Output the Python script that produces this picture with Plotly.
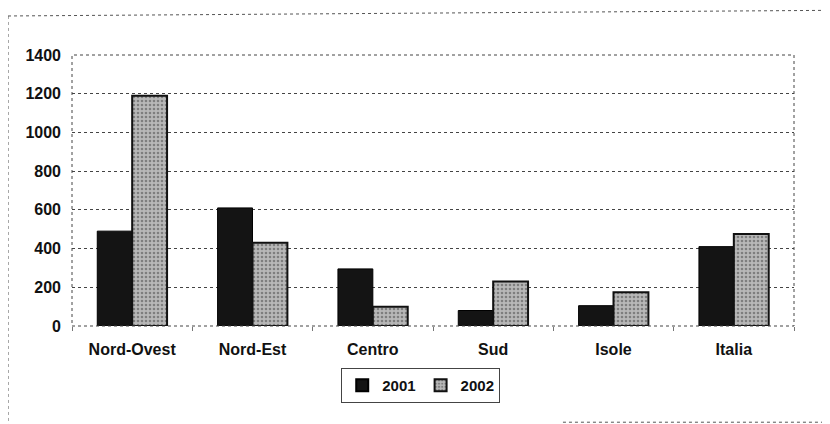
import plotly.graph_objects as go

categories = ["Nord-Ovest", "Nord-Est", "Centro", "Sud", "Isole", "Italia"]
values_2001 = [490, 610, 295, 80, 105, 410]
values_2002 = [1190, 430, 100, 230, 175, 475]
y_ticks = [0, 200, 400, 600, 800, 1000, 1200, 1400]

FONT = "Liberation Sans"

fig = go.Figure()
fig.add_trace(go.Bar(
    name="<b>2001</b>", x=categories, y=values_2001,
    marker=dict(color="#141414", line=dict(color="#000000", width=1)),
))
fig.add_trace(go.Bar(
    name="<b>2002</b>", x=categories, y=values_2002,
    marker=dict(
        color="#b0b0b0",
        line=dict(color="#111111", width=2),
        pattern=dict(shape=".", fgcolor="#444444", bgcolor="#b8b8b8", size=4, solidity=0.35),
    ),
))

fig.update_layout(
    width=822, height=416,
    margin=dict(l=64, r=36, t=47, b=98),
    paper_bgcolor="white", plot_bgcolor="white",
    barmode="group", bargap=0.42, bargroupgap=0.0,
    font=dict(family=FONT, size=16, color="#111111"),
    showlegend=True,
    legend=dict(
        orientation="h", x=0.483, xanchor="center", y=-0.155, yanchor="top",
        bordercolor="#444444", borderwidth=1, bgcolor="white",
        font=dict(family=FONT, size=15, color="#111111"),
        itemwidth=30, itemsizing="constant", tracegroupgap=0,
    ),
    xaxis=dict(
        showgrid=False, showline=False, zeroline=False,
        ticks="outside", tickson="boundaries", ticklen=4, tickcolor="#777777",
        ticklabelstandoff=12,
        tickvals=categories, ticktext=[f"<b>{c}</b>" for c in categories],
        tickfont=dict(family=FONT, size=16, color="#111111"),
    ),
    yaxis=dict(
        range=[0, 1400], tickvals=y_ticks, ticktext=[f"<b>{v}</b>" for v in y_ticks],
        showgrid=True, gridcolor="#444444", griddash="dot", gridwidth=1,
        zeroline=False, showline=False, ticks="", ticklabelstandoff=10,
        tickfont=dict(family=FONT, size=16, color="#111111"),
    ),
    shapes=[
        dict(type="rect", xref="paper", yref="paper", x0=0, x1=1, y0=0, y1=1,
             line=dict(color="#444444", width=1, dash="dot")),
        dict(type="line", xref="paper", yref="paper", x0=-0.0886, x1=-0.0886, y0=1.144, y1=-0.37,
             line=dict(color="#555555", width=1, dash="dot")),
        dict(type="line", xref="paper", yref="paper", x0=-0.0886, x1=1.06, y0=1.144, y1=1.165,
             line=dict(color="#555555", width=1, dash="dot")),
        dict(type="line", xref="paper", yref="paper", x0=0.68, x1=1.06, y0=-0.355, y1=-0.355,
             line=dict(color="#555555", width=1, dash="dot")),
    ],
)

fig.write_html("out.html")
